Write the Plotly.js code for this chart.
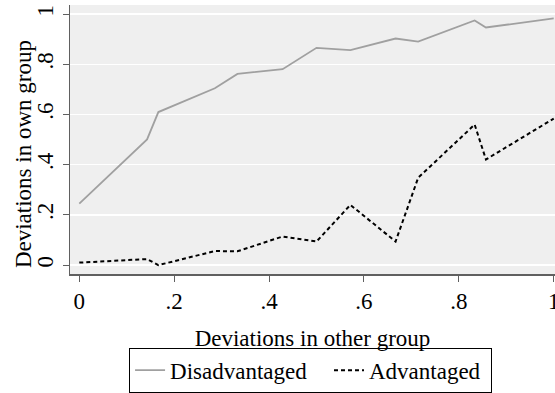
<!DOCTYPE html>
<html><head><meta charset="utf-8">
<script src="https://cdn.plot.ly/plotly-3.0.1.min.js"></script>
<style>html,body{margin:0;padding:0;background:#fff}</style>
</head><body><div id="chart" style="width:555px;height:393px"></div>
<script>
const xOther = [0, 1/7, 1/6, 2/7, 1/3, 3/7, 1/2, 4/7, 2/3, 5/7, 5/6, 6/7, 1];
const disadvantaged = [0.245, 0.501, 0.610, 0.705, 0.762, 0.781, 0.866, 0.857, 0.903, 0.891, 0.975, 0.947, 0.983];
const advantaged = [0.010, 0.024, 0.000, 0.056, 0.055, 0.114, 0.094, 0.240, 0.094, 0.348, 0.560, 0.421, 0.584];
const tickVals = [0, 0.2, 0.4, 0.6, 0.8, 1];
const tickText = ['0', '.2', '.4', '.6', '.8', '1'];
const seriesNames = ['Disadvantaged', 'Advantaged'];
const yTitle = 'Deviations in own group';
const xTitle = 'Deviations in other group';

const font = {family: 'Liberation Serif, Times New Roman, serif', size: 23, color: '#000'};
const gap = '\u00a0\u00a0\u00a0';
const traces = [
  {x: xOther, y: disadvantaged, mode: 'lines', name: seriesNames[0] + gap,
   line: {color: '#a0a0a0', width: 1.8}},
  {x: xOther, y: advantaged, mode: 'lines', name: seriesNames[1] + '\u00a0',
   line: {color: '#000', width: 2, dash: '4px,3px'}}
];
const layout = {
  width: 555, height: 393,
  margin: {l: 70, r: 0, t: 5, b: 116},
  paper_bgcolor: '#fff', plot_bgcolor: '#efefef',
  font: font,
  showlegend: true,
  legend: {orientation: 'h', x: 0.496, xanchor: 'center', y: -0.274, yanchor: 'top',
    bordercolor: '#000', borderwidth: 1, bgcolor: '#fff', font: font,
    itemwidth: 30, tracegroupgap: 0},
  xaxis: {range: [-0.0196, 1.0027], tickvals: tickVals, ticktext: tickText,
    ticklabeloverflow: 'allow',
    showgrid: false, zeroline: false, showline: true, linecolor: '#606060', linewidth: 1.5,
    ticks: 'outside', ticklen: 6, tickcolor: '#606060', tickwidth: 1,
    title: {text: xTitle, font: font, standoff: 17}},
  yaxis: {range: [-0.0354, 1.0366], tickvals: tickVals, ticktext: tickText,
    tickangle: -90, ticklabeloverflow: 'allow',
    showgrid: true, gridcolor: '#ffffff', gridwidth: 1.5, zeroline: false,
    showline: true, linecolor: '#606060', linewidth: 1.5,
    ticks: 'outside', ticklen: 6, tickcolor: '#606060', tickwidth: 1},
  annotations: [{text: yTitle, textangle: -90, xref: 'paper', yref: 'paper',
    x: -0.097, y: 0.4455, xanchor: 'center', yanchor: 'middle', showarrow: false, font: font}]
};
Plotly.newPlot('chart', traces, layout, {displayModeBar: false, staticPlot: true});
</script></body></html>
